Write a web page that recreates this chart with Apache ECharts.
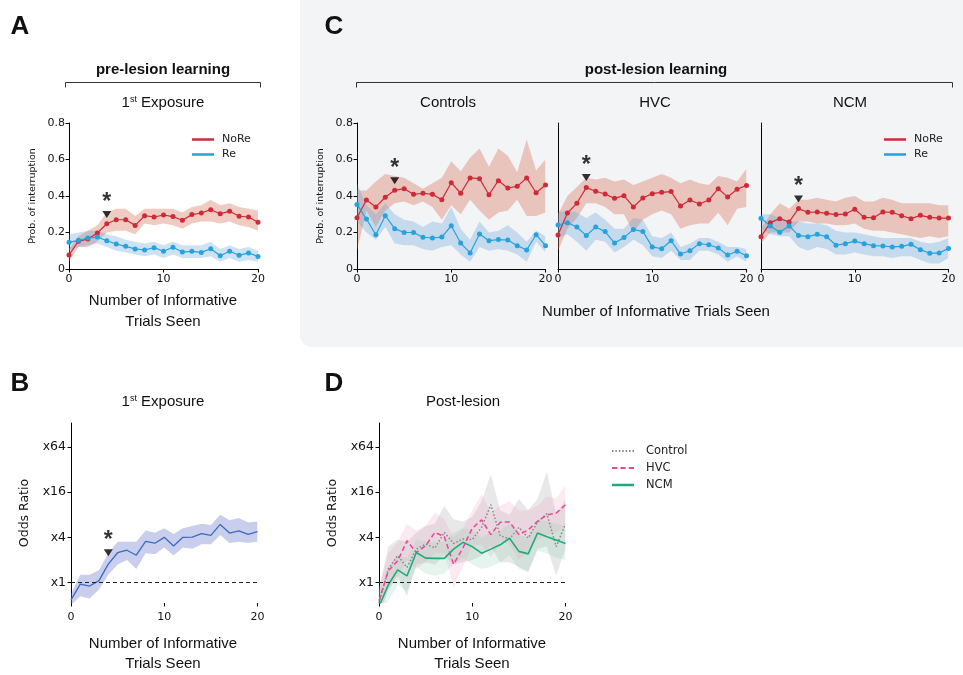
<!DOCTYPE html>
<html><head><meta charset="utf-8">
<script src="https://cdn.jsdelivr.net/npm/echarts@6/dist/echarts.min.js"></script>
<style>html,body{margin:0;padding:0;background:#fff}#c{width:963px;height:675px}</style>
</head><body><div id="c"></div>
<script>
// ---------- data ----------
const trials = [0,1,2,3,4,5,6,7,8,9,10,11,12,13,14,15,16,17,18,19,20];
const xTicks = [0,10,20];
const probTicks = [0,0.2,0.4,0.6,0.8];
const oddsTickLog2 = [0,2,4,6];
const oddsTickLabels = ['x1','x4','x16','x64'];

// Panel A (pre-lesion, 1st exposure)
const A_NoRe    = [0.077,0.152,0.164,0.197,0.248,0.27,0.27,0.239,0.292,0.285,0.296,0.287,0.267,0.298,0.307,0.325,0.303,0.316,0.289,0.285,0.256];
const A_NoRe_hi = [0.11,0.18,0.21,0.24,0.31,0.33,0.33,0.29,0.33,0.33,0.33,0.33,0.31,0.34,0.35,0.38,0.35,0.36,0.34,0.33,0.32];
const A_NoRe_lo = [0.04,0.12,0.12,0.15,0.2,0.21,0.21,0.19,0.25,0.24,0.25,0.24,0.22,0.25,0.26,0.26,0.25,0.26,0.24,0.23,0.21];
const A_Re      = [0.146,0.157,0.17,0.175,0.155,0.137,0.124,0.11,0.104,0.117,0.097,0.119,0.093,0.097,0.091,0.111,0.073,0.097,0.075,0.088,0.069];
const A_Re_hi   = [0.19,0.2,0.21,0.21,0.19,0.18,0.16,0.15,0.14,0.15,0.13,0.15,0.13,0.13,0.13,0.15,0.11,0.13,0.11,0.12,0.1];
const A_Re_lo   = [0.1,0.12,0.13,0.14,0.12,0.1,0.09,0.08,0.07,0.08,0.06,0.08,0.06,0.06,0.06,0.07,0.04,0.06,0.04,0.05,0.04];

// Panel C - Controls
const Cc_NoRe    = [0.281,0.378,0.34,0.393,0.431,0.44,0.409,0.415,0.409,0.38,0.473,0.415,0.499,0.495,0.407,0.484,0.444,0.453,0.499,0.418,0.46];
const Cc_NoRe_hi = [0.43,0.43,0.48,0.52,0.51,0.5,0.47,0.44,0.47,0.5,0.59,0.535,0.61,0.66,0.56,0.66,0.62,0.53,0.71,0.54,0.6];
const Cc_NoRe_lo = [0.1,0.32,0.23,0.32,0.36,0.37,0.35,0.37,0.34,0.27,0.35,0.3,0.38,0.32,0.27,0.31,0.32,0.38,0.29,0.29,0.31];
const Cc_Re      = [0.354,0.274,0.188,0.292,0.221,0.2,0.2,0.174,0.17,0.175,0.237,0.142,0.088,0.192,0.155,0.161,0.159,0.128,0.104,0.188,0.128];
const Cc_Re_hi   = [0.47,0.35,0.3,0.36,0.3,0.27,0.26,0.23,0.26,0.25,0.34,0.22,0.16,0.26,0.2,0.21,0.24,0.2,0.15,0.21,0.18];
const Cc_Re_lo   = [0.26,0.2,0.16,0.23,0.14,0.13,0.13,0.11,0.1,0.12,0.13,0.08,0.04,0.12,0.1,0.11,0.1,0.08,0.04,0.15,0.09];

// Panel C - HVC
const Ch_NoRe    = [0.186,0.307,0.36,0.446,0.426,0.411,0.387,0.402,0.34,0.389,0.413,0.42,0.424,0.345,0.378,0.356,0.378,0.44,0.395,0.437,0.458];
const Ch_NoRe_hi = [0.3,0.4,0.45,0.5,0.49,0.5,0.48,0.49,0.46,0.48,0.5,0.52,0.5,0.47,0.49,0.47,0.46,0.51,0.5,0.48,0.55];
const Ch_NoRe_lo = [0.1,0.22,0.28,0.36,0.36,0.34,0.3,0.3,0.2,0.27,0.3,0.32,0.3,0.22,0.24,0.25,0.25,0.31,0.24,0.33,0.34];
const Ch_Re      = [0.241,0.254,0.23,0.183,0.23,0.205,0.142,0.172,0.216,0.206,0.121,0.111,0.155,0.082,0.1,0.139,0.133,0.115,0.077,0.097,0.073];
const Ch_Re_hi   = [0.31,0.32,0.31,0.28,0.31,0.27,0.22,0.22,0.28,0.27,0.18,0.17,0.2,0.12,0.14,0.17,0.17,0.15,0.12,0.12,0.11];
const Ch_Re_lo   = [0.17,0.19,0.15,0.1,0.16,0.15,0.09,0.12,0.16,0.13,0.07,0.06,0.1,0.05,0.05,0.1,0.1,0.08,0.04,0.07,0.04];

// Panel C - NCM
const Cn_NoRe    = [0.177,0.254,0.276,0.258,0.331,0.311,0.312,0.305,0.298,0.301,0.327,0.283,0.281,0.312,0.311,0.292,0.276,0.294,0.283,0.279,0.279];
const Cn_NoRe_hi = [0.22,0.3,0.36,0.33,0.38,0.38,0.39,0.38,0.37,0.39,0.4,0.37,0.37,0.39,0.38,0.36,0.36,0.36,0.36,0.35,0.35];
const Cn_NoRe_lo = [0.14,0.2,0.2,0.2,0.26,0.26,0.25,0.25,0.24,0.24,0.25,0.22,0.21,0.21,0.2,0.19,0.18,0.17,0.18,0.17,0.18];
const Cn_Re      = [0.278,0.236,0.201,0.236,0.184,0.177,0.19,0.177,0.13,0.139,0.153,0.139,0.128,0.126,0.121,0.124,0.135,0.106,0.086,0.088,0.113];
const Cn_Re_hi   = [0.3,0.3,0.28,0.26,0.26,0.25,0.25,0.24,0.21,0.2,0.2,0.19,0.18,0.17,0.17,0.17,0.17,0.15,0.14,0.15,0.17];
const Cn_Re_lo   = [0.22,0.19,0.18,0.18,0.12,0.1,0.12,0.11,0.08,0.08,0.09,0.08,0.07,0.07,0.06,0.07,0.07,0.05,0.03,0.03,0.06];

// Panel B odds ratio (log2)
const B_OR    = [-0.76,-0.07,-0.15,0.09,0.82,1.32,1.43,1.21,1.82,1.74,2.0,1.62,2.0,2.01,2.16,2.09,2.57,2.19,2.29,2.13,2.25];
const B_OR_hi = [-0.5,0.35,0.35,0.55,1.3,1.8,1.8,1.8,2.3,2.2,2.4,2.15,2.4,2.5,2.6,2.55,3.0,2.75,2.85,2.65,2.7];
const B_OR_lo = [-1.0,-0.6,-0.7,-0.3,0.35,0.8,1.0,0.6,1.3,1.25,1.55,1.2,1.55,1.5,1.7,1.7,2.1,1.75,1.8,1.75,1.8];

// Panel D odds ratio (log2)
const D_Ctrl    = [-0.9,0.6,1.19,0.67,1.48,1.7,1.53,2.22,1.73,1.93,1.9,2.44,3.44,2.07,1.93,2.44,1.97,2.67,3.04,1.59,2.59];
const D_Ctrl_hi = [-0.3,1.6,1.9,1.8,2.2,2.5,2.6,3.4,2.8,2.7,2.9,3.6,4.8,3.2,3.0,3.7,3.2,3.7,4.9,3.0,3.7];
const D_Ctrl_lo = [-1.5,-0.3,0.3,-0.6,0.8,0.9,0.8,1.2,0.8,0.9,1.0,1.2,1.6,0.9,0.9,0.7,0.45,1.5,1.6,0.3,1.5];
const D_HVC     = [-0.8,0.52,0.96,1.85,1.33,1.63,2.22,2.03,0.81,1.53,2.4,2.77,2.12,2.67,2.68,2.12,2.33,2.71,2.99,3.07,3.44];
const D_HVC_hi  = [-0.2,1.3,1.8,2.6,2.3,2.5,3.1,2.8,2.0,2.4,3.2,3.9,3.1,3.4,3.6,3.2,3.2,3.4,3.8,3.7,4.3];
const D_HVC_lo  = [-1.4,-0.3,0.2,1.0,0.6,0.9,1.3,1.3,-0.2,0.7,1.6,1.7,1.1,1.8,1.7,1.0,1.4,1.9,2.1,2.2,2.5];
const D_NCM     = [-1.04,-0.1,0.56,0.3,1.33,1.08,1.07,1.07,1.48,1.78,1.59,1.3,1.48,1.67,1.96,1.38,1.27,2.19,2.03,1.88,1.73];
const D_NCM_hi  = [-0.4,0.7,1.2,1.1,1.9,1.8,1.8,1.8,2.2,2.4,2.3,2.0,2.2,2.3,2.6,2.1,2.0,2.8,2.7,2.6,2.5];
const D_NCM_lo  = [-1.5,-0.8,-0.1,-0.4,0.7,0.4,0.3,0.4,0.8,1.1,0.8,0.6,0.7,0.9,1.2,0.6,0.5,1.4,1.3,1.1,1.0];

// significance markers [trial, value]
const sigA  = [4, 0.298];
const sigCc = [4, 0.484];
const sigCh = [3, 0.502];
const sigCn = [4, 0.384];
const sigB  = [4, 1.32];

// ---------- styling ----------
const RED = '#cf2a3a', BLUE = '#26a2dc';
const RED_BAND = 'rgba(214,110,85,0.36)', BLUE_BAND = 'rgba(95,160,215,0.30)';
const TICKF = 'DejaVu Sans', TITLEF = 'Liberation Sans';

const grids = [
  {left:69,  top:123, width:189,   height:146}, // A
  {left:357, top:123, width:188.5, height:146}, // C controls
  {left:558, top:123, width:188.5, height:146}, // C HVC
  {left:761, top:123, width:187.5, height:146}, // C NCM
  {left:71,  top:423, width:186.5, height:180}, // B
  {left:379, top:423, width:186.5, height:180}  // D
];

function xAx(i, showLine) {
  return {type:'value', gridIndex:i, min:0, max:20, interval:10,
    axisLine:{show:showLine, onZero:false, lineStyle:{color:'#000', width:1}},
    axisTick:{show:true, length:3.5, lineStyle:{color:'#000'}},
    axisLabel:{fontFamily:TICKF, fontSize:11, color:'#111', margin: showLine ? 5 : 9},
    splitLine:{show:false}};
}
function probY(i, labels) {
  return {type:'value', gridIndex:i, min:0, max:0.8, interval:0.2,
    name: labels ? 'Prob. of interruption' : '', nameLocation:'middle', nameGap:31,
    nameTextStyle:{fontFamily:TICKF, fontSize:9.5, color:'#111'},
    axisLine:{show:true, onZero:false, lineStyle:{color:'#000', width:1}},
    axisTick:{show:labels, length:3.5, lineStyle:{color:'#000'}},
    axisLabel:{show:labels, fontFamily:TICKF, fontSize:11, color:'#111', margin:4,
      formatter: v => v === 0 ? '0' : v.toFixed(1)},
    splitLine:{show:false}};
}
function oddsY(i) {
  return {type:'value', gridIndex:i, min:-0.9, max:7.05,
    name:'Odds Ratio', nameLocation:'middle', nameGap:40,
    nameTextStyle:{fontFamily:TICKF, fontSize:12.5, color:'#111'},
    axisLine:{show:true, onZero:false, lineStyle:{color:'#000', width:1}},
    axisTick:{show:true, length:3.5, customValues: oddsTickLog2, lineStyle:{color:'#000'}},
    axisLabel:{fontFamily:TICKF, fontSize:12.5, color:'#111', margin:5, customValues: oddsTickLog2,
      formatter: v => oddsTickLabels[oddsTickLog2.indexOf(Math.round(v))] || ''},
    splitLine:{show:false}};
}

function band(i, lo, hi, color) {
  return {type:'custom', xAxisIndex:i, yAxisIndex:i, silent:true, z:1,
    data:[[trials[0], lo[0]]],
    renderItem: (params, api) => {
      const pts = [];
      for (let k = 0; k < trials.length; k++) pts.push(api.coord([trials[k], hi[k]]));
      for (let k = trials.length - 1; k >= 0; k--) pts.push(api.coord([trials[k], lo[k]]));
      const cs = params.coordSys;
      return {type:'polygon', shape:{points:pts}, style:{fill:color},
        clipPath:{type:'rect', shape:{x:cs.x, y:cs.y, width:cs.width, height:cs.height}}};
    }};
}
function dotLine(i, name, vals, color) {
  return {type:'line', name, xAxisIndex:i, yAxisIndex:i, z:3,
    data: trials.map((t,k)=>[t, vals[k]]),
    symbol:'circle', symbolSize:5, showSymbol:true,
    itemStyle:{color}, lineStyle:{color, width:1.2}, emphasis:{disabled:true}};
}
function sig(i, p) {
  return {type:'scatter', xAxisIndex:i, yAxisIndex:i, z:4, silent:true,
    data:[p], symbol:'triangle', symbolRotate:180, symbolSize:[9,7],
    itemStyle:{color:'#000'},
    label:{show:true, position:'top', distance:-3, formatter:'*',
      fontFamily:TITLEF, fontWeight:'bold', fontSize:23, color:'#000'}};
}
const zeroLine = {silent:true, symbol:['none','none'], data:[{yAxis:0}],
  label:{show:false}, lineStyle:{type:[4,3], color:'#222', width:1.2}};

const series = [
  band(0, A_NoRe_lo, A_NoRe_hi, RED_BAND), band(0, A_Re_lo, A_Re_hi, BLUE_BAND),
  dotLine(0, 'NoRe', A_NoRe, RED), dotLine(0, 'Re', A_Re, BLUE), sig(0, sigA),

  band(1, Cc_NoRe_lo, Cc_NoRe_hi, RED_BAND), band(1, Cc_Re_lo, Cc_Re_hi, BLUE_BAND),
  dotLine(1, 'NoRe', Cc_NoRe, RED), dotLine(1, 'Re', Cc_Re, BLUE), sig(1, sigCc),

  band(2, Ch_NoRe_lo, Ch_NoRe_hi, RED_BAND), band(2, Ch_Re_lo, Ch_Re_hi, BLUE_BAND),
  dotLine(2, 'NoRe', Ch_NoRe, RED), dotLine(2, 'Re', Ch_Re, BLUE), sig(2, sigCh),

  band(3, Cn_NoRe_lo, Cn_NoRe_hi, RED_BAND), band(3, Cn_Re_lo, Cn_Re_hi, BLUE_BAND),
  dotLine(3, 'NoRe', Cn_NoRe, RED), dotLine(3, 'Re', Cn_Re, BLUE), sig(3, sigCn),

  band(4, B_OR_lo, B_OR_hi, 'rgba(110,125,205,0.38)'),
  {type:'line', name:'OR', xAxisIndex:4, yAxisIndex:4, z:3, data: trials.map((t,k)=>[t, B_OR[k]]),
    symbol:'none', lineStyle:{color:'#3a6bc2', width:1.3}, markLine: zeroLine},
  sig(4, sigB),

  band(5, D_Ctrl_lo, D_Ctrl_hi, 'rgba(150,150,150,0.22)'),
  band(5, D_HVC_lo, D_HVC_hi, 'rgba(240,150,190,0.20)'),
  band(5, D_NCM_lo, D_NCM_hi, 'rgba(110,200,160,0.18)'),
  {type:'line', name:'Control', xAxisIndex:5, yAxisIndex:5, z:3, data: trials.map((t,k)=>[t, D_Ctrl[k]]),
    symbol:'none', itemStyle:{color:'#888'}, lineStyle:{color:'#888', width:1.5, type:[1.5,2]}, markLine: zeroLine},
  {type:'line', name:'HVC', xAxisIndex:5, yAxisIndex:5, z:3, data: trials.map((t,k)=>[t, D_HVC[k]]),
    symbol:'none', itemStyle:{color:'#e8479a'}, lineStyle:{color:'#e8479a', width:1.5, type:[5,3]}},
  {type:'line', name:'NCM', xAxisIndex:5, yAxisIndex:5, z:3, data: trials.map((t,k)=>[t, D_NCM[k]]),
    symbol:'none', itemStyle:{color:'#1fab7b'}, lineStyle:{color:'#1fab7b', width:1.6}}
];

function txt(x, y, text, size, bold, extra) {
  return Object.assign({type:'text', x, y, z:10, style:{text, fontFamily:TITLEF, fontSize:size,
    fontWeight: bold ? 'bold' : 'normal', fill:'#111', align:'center', verticalAlign:'middle'}}, extra || {});
}
function supTitle(x, y, main) {
  return {type:'text', x, y, z:10, style:{text:'{n|1}{s|st}{n|' + main + '}', align:'center', verticalAlign:'middle',
    rich:{n:{fontFamily:TITLEF, fontSize:15, fill:'#111'}, s:{fontFamily:TITLEF, fontSize:9, fill:'#111', verticalAlign:'top'}}}};
}
function bracket(x1, x2, y) {
  return {type:'polyline', z:10, shape:{points:[[x1,y+5],[x1,y],[x2,y],[x2,y+5]]}, style:{stroke:'#333', lineWidth:1, fill:null}};
}

const graphics = [
  {type:'rect', z:-10, shape:{x:300, y:-12, width:680, height:359, r:12}, style:{fill:'#f3f4f6'}},
  txt(20, 27, 'A', 26, true), txt(334, 27, 'C', 26, true),
  txt(20, 384, 'B', 26, true), txt(334, 384, 'D', 26, true),
  txt(163, 70, 'pre-lesion learning', 15, true), bracket(65.5, 260.5, 82.5),
  supTitle(163, 103, ' Exposure'),
  txt(656, 70, 'post-lesion learning', 15, true), bracket(356.5, 952.5, 82.5),
  txt(448, 103, 'Controls', 15, false), txt(655, 103, 'HVC', 15, false), txt(850, 103, 'NCM', 15, false),
  txt(163, 301, 'Number of Informative', 15, false), txt(163, 322, 'Trials Seen', 15, false),
  txt(656, 312, 'Number of Informative Trials Seen', 15, false),
  supTitle(163, 402, ' Exposure'), txt(463, 402, 'Post-lesion', 15, false),
  txt(163, 644, 'Number of Informative', 15, false), txt(163, 664, 'Trials Seen', 15, false),
  txt(472, 644, 'Number of Informative', 15, false), txt(472, 664, 'Trials Seen', 15, false)
];

function dotsPath(len, dash, gap) {
  let p = 'path://', x = 0;
  while (x < len) { p += 'M' + x + ',0h' + dash + 'v2h-' + dash + 'z'; x += dash + gap; }
  return p;
}

const legendCommon = {orient:'vertical', selectedMode:false, itemWidth:22, itemHeight:2.5, itemGap:4,
  textStyle:{fontFamily:TICKF, fontSize:11, color:'#222', padding:[0,0,0,3]}};

const option = {
  animation:false,
  backgroundColor:'#ffffff',
  grid: grids,
  xAxis: [xAx(0,true), xAx(1,true), xAx(2,true), xAx(3,true), xAx(4,false), xAx(5,false)],
  yAxis: [probY(0,true), probY(1,true), probY(2,false), probY(3,false), oddsY(4), oddsY(5)],
  legend: [
    Object.assign({left:187, top:129, data:[{name:'NoRe', icon:'rect'}, {name:'Re', icon:'rect'}]}, legendCommon),
    Object.assign({left:879, top:129, data:[{name:'NoRe', icon:'rect'}, {name:'Re', icon:'rect'}]}, legendCommon),
    {left:607, top:440, orient:'vertical', selectedMode:false, itemWidth:22, itemHeight:2.5, itemGap:5,
      textStyle:{fontFamily:TICKF, fontSize:11.5, color:'#222', padding:[0,0,0,7]},
      data:[{name:'Control', icon: dotsPath(22,1.5,2)}, {name:'HVC', icon: dotsPath(22,5,3)}, {name:'NCM', icon:'rect'}]}
  ],
  graphic: {elements: graphics},
  series
};
const chart = echarts.init(document.getElementById('c'), null, {renderer:'canvas'});
chart.setOption(option);
</script></body></html>
